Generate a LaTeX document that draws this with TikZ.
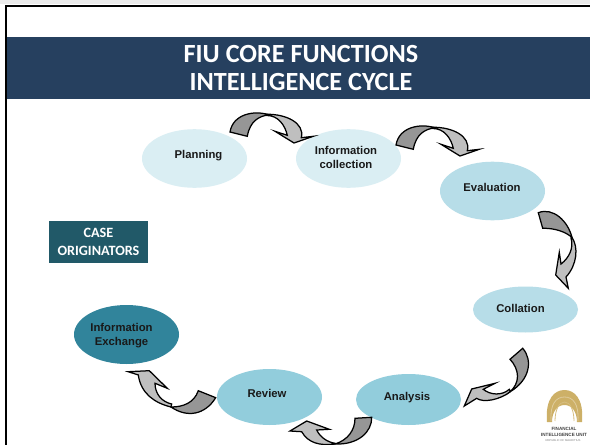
\documentclass[tikz,border=0pt]{standalone}
\usepackage{fontspec}
\setmainfont{Liberation Sans}
\newfontfamily\carl{Carlito}
\usetikzlibrary{shapes.geometric}
\definecolor{banner}{HTML}{26405F}
\definecolor{casebox}{HTML}{215968}
\definecolor{ellA}{HTML}{DAEEF3}
\definecolor{ellB}{HTML}{B7DDE8}
\definecolor{ellC}{HTML}{92CDDC}
\definecolor{ellD}{HTML}{31849B}
\definecolor{arrowdark}{HTML}{969696}
\definecolor{arrowlight}{HTML}{BFBFBF}
\definecolor{gold}{HTML}{C4A24C}
\tikzset{
  ell/.style={ellipse,minimum width=105pt,minimum height=58.6pt,inner sep=0pt},
  lab/.style={font=\bfseries\fontsize{11.3}{14}\selectfont,align=center,text=black!90,inner sep=0pt},
  darkpart/.style={fill=arrowdark,draw=black,line width=1.25pt,line join=miter},
  lightpart/.style={fill=arrowlight,draw=black,line width=1.25pt,line join=miter},
  titletext/.style={font=\carl\bfseries\fontsize{26.2}{28}\selectfont,text=white,align=center,inner sep=0pt},
  casetext/.style={font=\carl\bfseries\fontsize{14.2}{17.5}\selectfont,text=white,align=center,inner sep=0pt},
  logotext/.style={font=\bfseries\fontsize{4.6}{5}\selectfont,text=black!75,inner sep=0pt}
}
\begin{document}
\begin{tikzpicture}[x=1pt,y=-1pt]
\useasboundingbox (0,0) rectangle (590,445);
\fill[white] (0,0) rectangle (590,445);
\fill[black!8] (0,0) rectangle (590,4);
% frame
\draw[line width=2.6pt,black] (6,445) -- (6,5.8) -- (590,5.8);
% banner
\fill[banner] (7.3,37) rectangle (590,98.7);
\node[titletext] (title) at (301,67.5) {FIU CORE FUNCTIONS\\INTELLIGENCE CYCLE};
% case box
\node[fill=casebox,minimum width=99pt,minimum height=42pt,inner sep=0pt,casetext] (case) at (98.5,242) {CASE\\ORIGINATORS};
% ellipses
\node[ell,fill=ellA,label={[lab,xshift=4pt,yshift=3pt]center:Planning}] (planning) at (194.5,158.5) {};
\node[ell,fill=ellA,label={[lab,xshift=-2.5pt,yshift=1.5pt]center:Information\\collection}] (collection) at (348.5,158.5) {};
\node[ell,fill=ellB,label={[lab,xshift=-0.5pt,yshift=4pt]center:Evaluation}] (evaluation) at (492.5,191) {};
\node[ell,fill=ellB,minimum height=46pt,label={[lab,xshift=-5pt,yshift=1.5pt]center:Collation}] (collation) at (525.5,309.5) {};
\node[ell,fill=ellC,minimum height=51pt,label={[lab,xshift=-1.5pt,yshift=2pt]center:Analysis}] (analysis) at (408.5,399.5) {};
\node[ell,fill=ellC,minimum height=56pt,label={[lab,xshift=-2.5pt,yshift=4pt]center:Review}] (review) at (269.5,397) {};
\node[ell,fill=ellD,minimum height=59pt,label={[lab,xshift=-5pt,yshift=-1.5pt]center:Information\\Exchange}] (exchange) at (126.5,334.5) {};
% arrow 1 and 2 share a shape
\foreach \dx/\dy in {-166/-13,0/0}{
\begin{scope}[shift={(\dx pt,-\dy pt)}]
\path[lightpart] (433,127.3) .. controls (452,127) and (471,136) .. (467.3,150.7)
  -- (479.3,149.3) -- (460,156) -- (441,144.3) -- (453.3,148.3)
  .. controls (451,138) and (444,128.5) .. (433,128.5) -- cycle;
\path[darkpart] (396,145) .. controls (399,127) and (420,123) .. (435,127.8)
  .. controls (425,129) and (416,134) .. (413.3,149.3) -- cycle;
\end{scope}
}
% arrow 3
\path[lightpart] (571.5,236.7) .. controls (579,247) and (577,265) .. (566,277)
  -- (568.3,288.3) -- (555.7,275) -- (559.3,252.3) -- (561,264)
  .. controls (569,258) and (574,248) .. (571,238) -- cycle;
\path[darkpart] (538.3,212.7) .. controls (553,207) and (568,221) .. (572,237.5)
  .. controls (566,232) and (555,228) .. (542.7,228.3) -- cycle;
% arrow 4
\path[lightpart] (510.5,391.5) .. controls (500,400) and (483,403) .. (476.7,398.3)
  -- (464.3,406) -- (471.7,389) -- (495,383.3) -- (483.3,389.3)
  .. controls (490,395) and (502,396) .. (509.3,389.3) -- cycle;
\path[darkpart] (522.7,348.3) .. controls (533,360) and (530,380) .. (510,391.8)
  .. controls (520,383) and (520,370) .. (510,359.3) -- cycle;
% arrow 5
\path[lightpart] (335,444) .. controls (320,446) and (308,443) .. (301.7,431.7)
  -- (290,431) -- (306.7,421) -- (329.3,429.3) -- (316.7,430)
  .. controls (320,437) and (327,442) .. (335,443.3) -- cycle;
\path[darkpart] (371.7,417.3) .. controls (372,432) and (358,445) .. (335,444)
  .. controls (348,440) and (355,430) .. (355,418.3) -- cycle;
% arrow 6
\path[lightpart] (171,407) .. controls (155,403) and (141,394) .. (138.3,375)
  -- (128.3,371.7) -- (149.3,370.7) -- (167.3,388.3) -- (155,383.3)
  .. controls (155,394) and (162,402) .. (171.7,404) -- cycle;
\path[darkpart] (215.7,397.7) .. controls (205,415) and (187,418) .. (171,407)
  .. controls (183,407) and (194,403) .. (198.3,390.7) -- cycle;
% logo
\fill[gold!85] (547,422) .. controls (545,398) and (555,390) .. (564.5,390)
  .. controls (574,390) and (584,398) .. (582,422)
  -- (577,422) .. controls (577,412) and (572,405) .. (564.5,405)
  .. controls (557,405) and (552,412) .. (552,422) -- cycle;
\draw[gold!55,line width=0.8pt] (551,421) .. controls (550,404) and (556,397) .. (564.5,397)
  .. controls (573,397) and (579,404) .. (578,421);
\draw[gold!70,line width=0.8pt] (555,421) .. controls (555,410) and (559,402) .. (564.5,402)
  .. controls (570,402) and (574,410) .. (574,421);
\node[logotext] (logoa) at (564,429) {FINANCIAL};
\node[logotext] (logob) at (564,435) {INTELLIGENCE UNIT};
\node[logotext,font=\fontsize{2.8}{3}\selectfont,text=black!50] (logoc) at (563,440.5) {REPUBLIC OF MAURITIUS};
\end{tikzpicture}
\end{document}
